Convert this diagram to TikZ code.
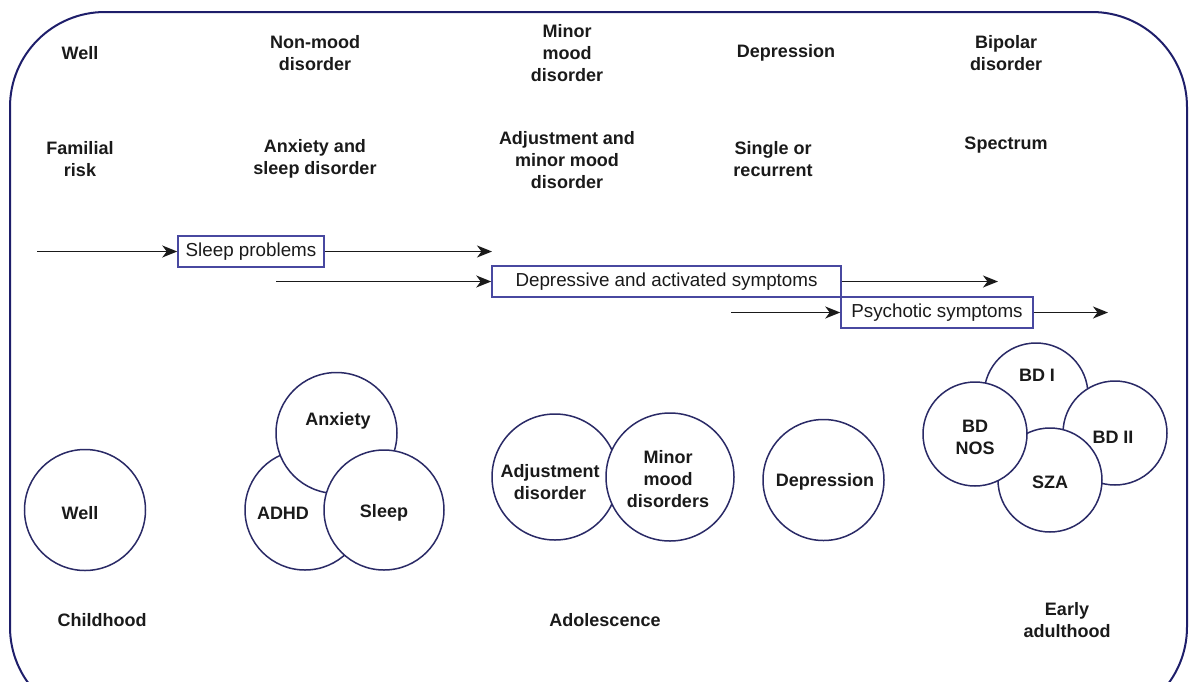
\documentclass[tikz,border=0pt]{standalone}
\usepackage{fontspec}
\setmainfont{Liberation Sans}
\usetikzlibrary{arrows.meta}
\definecolor{navy}{HTML}{1E1E6A}
\definecolor{circnavy}{HTML}{2A2A66}
\definecolor{boxblue}{HTML}{4848A0}
\definecolor{ink}{HTML}{1A1A1A}
\begin{document}
\begin{tikzpicture}[x=1pt,y=-1pt,
  lbl/.style={font=\bfseries\fontsize{18}{22}\selectfont, align=center, text=ink, inner sep=0pt},
  circ/.style={circle, draw=circnavy, line width=1.5pt, fill=white, inner sep=0pt, minimum size=#1},
  tag/.style={draw=boxblue, line width=1.5pt, fill=white, inner sep=0pt, text=ink,
    font=\fontsize{18.8}{22}\selectfont},
  arr/.style={draw=ink, line width=1.7pt, -{Stealth[length=15pt,width=12pt,inset=4.5pt]}},
  border/.style={draw=navy, line width=2pt, rounded corners=95pt}
]
\useasboundingbox (0,0) rectangle (1192,681);
\begin{scope}
  \clip (0,0) rectangle (1192,681);
  \draw[border] (10,12) rectangle (1187,722);
\end{scope}

% top row
\node[lbl] (tWell) at (80,53) {Well};
\node[lbl] (tNonmood) at (315,53) {Non-mood\\disorder};
\node[lbl] (tMinor) at (567,53) {Minor\\mood\\disorder};
\node[lbl] (tDep) at (786,53) {Depression};
\node[lbl] (tBip) at (1006,53) {Bipolar\\disorder};
% second row
\node[lbl] (tFam) at (80,159) {Familial\\risk};
\node[lbl] (tAnx) at (315,159) {Anxiety and\\sleep disorder};
\node[lbl] (tAdj) at (567,160) {Adjustment and\\minor mood\\disorder};
\node[lbl] (tSingle) at (773,159) {Single or\\recurrent};
\node[lbl] (tSpec) at (1006,145) {Spectrum};

% symptom boxes
\node[tag, minimum width=146pt, minimum height=31pt] (sleepbox) at (251,251.5) {Sleep problems};
\node[tag, minimum width=349pt, minimum height=31pt] (depbox) at (666.5,281.5) {Depressive and activated symptoms};
\node[tag, minimum width=192pt, minimum height=31pt] (psybox) at (937,312.5) {Psychotic symptoms};

\coordinate (s1) at (37,251.5);
\coordinate (e1) at (492,251.5);
\coordinate (s2) at (276,281.5);
\coordinate (e2) at (998,281.5);
\coordinate (s3) at (731,312.5);
\coordinate (e3) at (1108,312.5);
\draw[arr] (s1) -- (sleepbox.west);
\draw[arr] (sleepbox.east) -- (e1);
\draw[arr] (s2) -- (depbox.west);
\draw[arr] (depbox.east) -- (e2);
\draw[arr] (s3) -- (psybox.west);
\draw[arr] (psybox.east) -- (e3);

% childhood circles
\node[circ=121pt] (cWell) at (85,510) {};
\node[lbl] (lWell) at (80,513) {Well};
\node[circ=120pt] (cADHD) at (305,510) {};
\node[circ=121pt] (cAnx) at (336.5,433) {};
\node[circ=120pt] (cSleep) at (384,510) {};
\node[lbl] (lAnx) at (338,421) {Anxiety};
\node[lbl] (lADHD) at (283,513) {ADHD};
\node[lbl] (lSleep) at (384,513) {Sleep};

% adolescence circles
\node[circ=126pt] (cAdj) at (555,477) {};
\node[circ=128pt] (cMinor) at (670,477) {};
\node[lbl] (lAdj) at (550,482) {Adjustment\\disorder};
\node[lbl] (lMinor) at (668,479) {Minor\\mood\\disorders};
\node[circ=121pt] (cDep) at (823.5,480) {};
\node[lbl] (lDep) at (825,482) {Depression};

% bipolar spectrum circles
\node[circ=104pt] (cBDI) at (1036,395) {};
\node[circ=104pt] (cBDII) at (1115,433) {};
\node[circ=104pt] (cSZA) at (1050,480) {};
\node[circ=104pt] (cNOS) at (975,434) {};
\node[lbl] (lBDI) at (1037,375) {BD I};
\node[lbl] (lBDII) at (1113,437) {BD II};
\node[lbl] (lSZA) at (1050,482) {SZA};
\node[lbl] (lNOS) at (975,437) {BD\\NOS};

% stages
\node[lbl] (stChild) at (102,620) {Childhood};
\node[lbl] (stAdol) at (605,620) {Adolescence};
\node[lbl] (stAdult) at (1067,620) {Early\\adulthood};
\end{tikzpicture}
\end{document}
